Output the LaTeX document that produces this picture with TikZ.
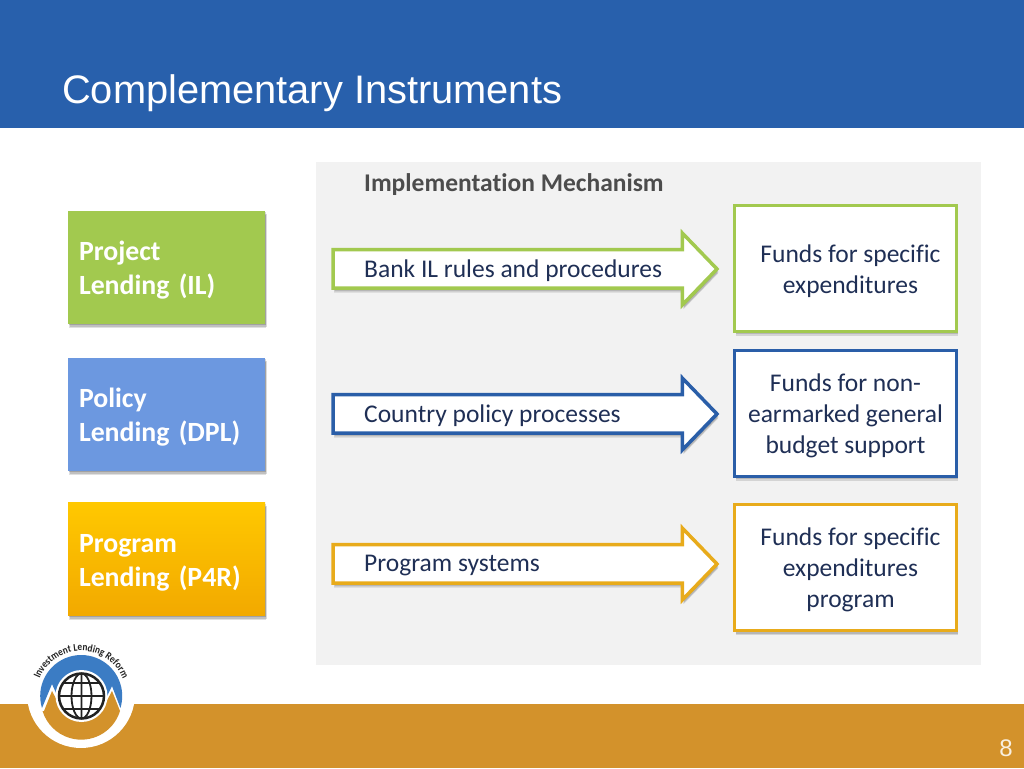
\documentclass[tikz,border=0pt]{standalone}
\usepackage{fontspec}
\setmainfont[Ligatures=CommonOff]{Carlito}
\newfontfamily\titlefont{Liberation Sans}
\newfontfamily\logofont[FakeStretch=.88,Ligatures=CommonOff]{Carlito}
\usetikzlibrary{positioning,shapes.arrows,shadows,decorations.text}
\definecolor{headblue}{HTML}{2860AC}
\definecolor{footorange}{HTML}{D3922B}
\definecolor{panelgray}{HTML}{F2F2F2}
\definecolor{inkblue}{HTML}{1F2F55}
\definecolor{ilgreen}{HTML}{A2C94F}
\definecolor{dplblue}{HTML}{6C98E0}
\definecolor{dplline}{HTML}{2A5EA8}
\definecolor{pfrtop}{HTML}{FFC800}
\definecolor{pfrbottom}{HTML}{F2A900}
\definecolor{pfryellow}{HTML}{E8AB1B}
\definecolor{logoblue}{HTML}{3B7CC4}
\definecolor{logoink}{HTML}{222222}
\newcommand{\lendstrut}{\rule{0pt}{25pt}}
\tikzset{softshadow/.style={drop shadow={shadow xshift=1pt,shadow yshift=-4.5pt,fill=black,opacity=.12},drop shadow={shadow xshift=1.5pt,shadow yshift=-3pt,fill=black,opacity=.14},drop shadow={shadow xshift=1pt,shadow yshift=-1.5pt,fill=black,opacity=.16}}}
\tikzset{lend box/.style={rectangle,minimum width=197pt,minimum height=113pt,inner sep=0pt,text width=175pt,align=left,text=white,font=\fontsize{27.8}{34}\selectfont\bfseries,softshadow}}
\tikzset{flow arrow/.style={single arrow,draw=#1,fill=white,line width=3.5pt,minimum height=384pt,inner sep=0pt,outer sep=0pt,text height=25pt,text depth=10pt,single arrow head extend=16.5pt,single arrow head indent=0pt,single arrow tip angle=92,anchor=tail,softshadow}}
\tikzset{flow text/.style={inner sep=0pt,yshift=-2pt,text=inkblue,font=\fontsize{25.5}{31}\selectfont}}
\tikzset{fund box/.style={rectangle,draw=#1,fill=white,line width=3.5pt,minimum width=222pt,minimum height=126pt,inner sep=0pt,softshadow}}
\tikzset{fund text/.style={inner sep=0pt,yshift=-2.5pt,align=center,text=inkblue,font=\fontsize{25.5}{31}\selectfont}}
\begin{document}
\begin{tikzpicture}[x=1pt,y=1pt]
    \useasboundingbox (0,0) rectangle (1024,768);
    \fill[white] (0,0) rectangle (1024,768);
    \fill[headblue] (0,640) rectangle (1024,768);
    \fill[footorange] (0,0) rectangle (1024,64);
    \fill[panelgray] (316,103) rectangle (981,606);

    \node[inner sep=0pt,anchor=base west,text=white,font=\titlefont\fontsize{39.8}{44}\selectfont] (title) at (62,664) {Complementary Instruments};
    \node[inner sep=0pt,anchor=base west,text=black!70,font=\fontsize{25.5}{30}\selectfont\bfseries] (mech) at (364,576) {Implementation Mechanism};
    \node[inner sep=0pt,anchor=base east,text=white!85!footorange,font=\titlefont\fontsize{24}{26}\selectfont] (page) at (1013,12) {8};

    % left column
    \node[lend box,fill=ilgreen] (il) at (166.5,500.5) {\lendstrut Project\\Lending (IL)};
    \node[lend box,fill=dplblue] (dpl) at (166.5,353.5) {\lendstrut Policy\\Lending (DPL)};
    \node[lend box,top color=pfrtop,bottom color=pfrbottom] (pfr) at (166.5,208.5) {\lendstrut Program\\Lending (P4R)};

    % arrows
    \node[flow arrow=ilgreen] (arrow il) at (333,499) {};
    \node[flow arrow=dplline] (arrow dpl) at (333,354) {};
    \node[flow arrow=pfryellow] (arrow pfr) at (333,204) {};
    \node[flow text,right=31pt of arrow il.tail] (rules) {Bank IL rules and procedures};
    \node[flow text,right=31pt of arrow dpl.tail] (policy) {Country policy processes};
    \node[flow text,right=31pt of arrow pfr.tail] (systems) {Program systems};

    % right column
    \node[fund box=ilgreen] (fund il) at (845.5,499.5) {};
    \node[fund box=dplline] (fund dpl) at (845.5,354.5) {};
    \node[fund box=pfryellow] (fund pfr) at (845.5,200.5) {};
    \node[fund text,xshift=5pt] (fund il text) at (fund il) {Funds for specific\\expenditures};
    \node[fund text] (fund dpl text) at (fund dpl) {Funds for non-\\earmarked general\\budget support};
    \node[fund text,xshift=5pt] (fund pfr text) at (fund pfr) {Funds for specific\\expenditures\\program};

    % logo
    \fill[white] (81,74) circle (54);
    \fill[logoblue] (42,60) arc (197:-17:41) -- (112,82) -- (103,64) -- (61,64) -- (52,84) -- cycle;
    \fill[footorange] (44,57) -- (52,77) -- (62,58) -- (102,58) -- (112,77) -- (120,57) arc (-17:-163:40.5) -- cycle;
    \fill[white] (81.5,72) circle (26);
    \draw[logoink,line width=2.5pt,fill=white] (81.5,72) circle (22.5);
    \draw[logoink,line width=1.8pt] (81.5,72) ellipse (10 and 22.5) (81.5,49.5) -- (81.5,94.5) (59,72) -- (104,72);
    \draw[logoink,line width=1.8pt] (63,85) -- (100,85) (63,59) -- (100,59);
    \path[decorate,decoration={text along path,text align=center,text={|\logofont\fontsize{10.5}{10}\selectfont\bfseries\color{logoink}|Investment Lending Reform}}] (37.2,81.5) arc (168:12:45);
\end{tikzpicture}
\end{document}
